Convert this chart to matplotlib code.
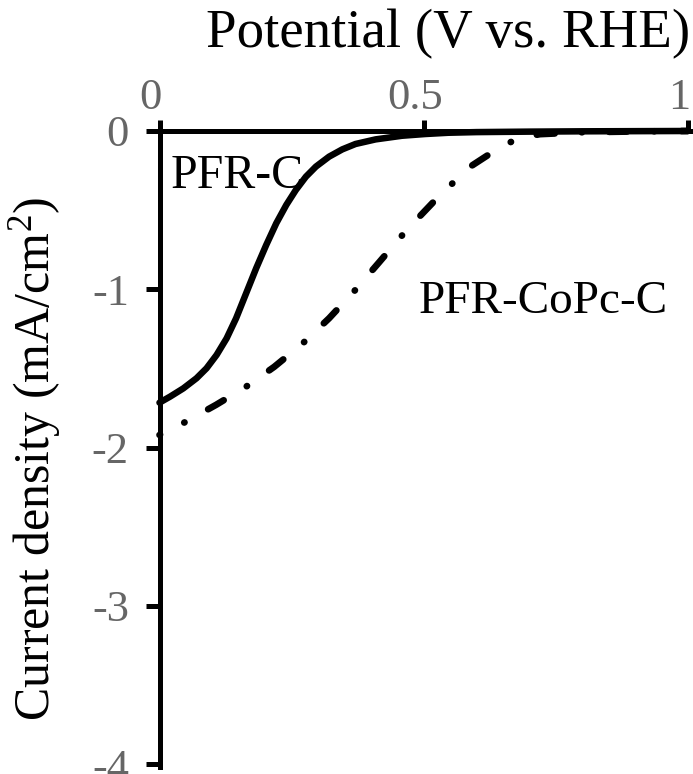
import matplotlib
matplotlib.use("Agg")
import matplotlib.pyplot as plt
import matplotlib.transforms as mtransforms

plt.rcParams["font.family"] = ["Liberation Serif", "DejaVu Serif"]
plt.rcParams["mathtext.fontset"] = "custom"
plt.rcParams["mathtext.rm"] = "Liberation Serif"
plt.rcParams["mathtext.it"] = "Liberation Serif:italic"

# LSV curves (potential in V vs. RHE, current density in mA/cm2)
pfr_c_v = [0.0, 0.020, 0.045, 0.070, 0.089, 0.108, 0.127, 0.145, 0.164, 0.183,
           0.202, 0.221, 0.240, 0.258, 0.277, 0.296, 0.321, 0.346, 0.371, 0.409,
           0.459, 0.503, 0.547, 0.60, 0.70, 0.80, 0.90, 1.0]
pfr_c_j = [-1.716, -1.678, -1.626, -1.562, -1.499, -1.415, -1.310, -1.183, -1.025, -0.867,
           -0.720, -0.583, -0.467, -0.373, -0.289, -0.225, -0.162, -0.116, -0.082, -0.053,
           -0.030, -0.019, -0.011, -0.007, -0.004, -0.002, -0.001, 0.0]

pfr_copc_c_v = [0.0, 0.044, 0.107, 0.164, 0.217, 0.270, 0.321, 0.369, 0.415,
                0.468, 0.522, 0.585, 0.625, 0.654, 0.679, 0.72, 0.80, 0.90, 1.0]
pfr_copc_c_j = [-1.92, -1.847, -1.73, -1.615, -1.49, -1.345, -1.183, -1.01, -0.832,
                -0.625, -0.436, -0.232, -0.145, -0.088, -0.046, -0.02, -0.008, -0.003, 0.0]

x_ticks = [0, 0.5, 1]
x_tick_labels = ["0", "0.5", "1"]
y_ticks = [0, -1, -2, -3, -4]
y_tick_labels = ["0", "-1", "-2", "-3", "-4"]

fig = plt.figure(figsize=(6.93, 7.74), dpi=100)
ax = fig.add_axes([159.5 / 693, 1 - 766.6 / 774, 531 / 693, (766.6 - 131) / 774])

ax.plot(pfr_c_v, pfr_c_j, color="black", lw=4.7, solid_capstyle="round",
        solid_joinstyle="round", clip_on=False)
ax.plot(pfr_copc_c_v, pfr_copc_c_j, color="black", lw=4.8, clip_on=False,
        dash_capstyle="round", linestyle=(2.6, (2.7, 4.05, 0.05, 4.05)))

ax.set_xlim(0, 1.005)
ax.set_ylim(-4.015, 0)

# x axis sits on top, y axis on the left
for side in ("right", "bottom"):
    ax.spines[side].set_visible(False)
for side in ("left", "top"):
    ax.spines[side].set_linewidth(3.6)
ax.xaxis.set_ticks_position("top")
ax.set_xticks(x_ticks)
ax.set_xticklabels(x_tick_labels)
ax.set_yticks(y_ticks)
ax.set_yticklabels(y_tick_labels)
ax.tick_params(direction="out", width=3.6, labelsize=32,
               labelcolor="#666666", color="black")
ax.tick_params(axis="x", length=8, pad=1.5)
ax.tick_params(axis="y", length=10, pad=12)

# nudge the top tick labels slightly to the left
shift = mtransforms.ScaledTranslation(-9 / 100, 0, fig.dpi_scale_trans)
for lbl in ax.get_xticklabels():
    lbl.set_transform(lbl.get_transform() + shift)

ax.set_xlabel("Potential (V vs. RHE)", fontsize=39.5, va="baseline")
ax.xaxis.set_label_coords(0.543, 1.132)
ax.set_ylabel("Current density (mA/cm$^{2}$)", fontsize=36, va="baseline")
ax.yaxis.set_label_coords(-0.207, 0.485)

ax.text(0.021, -0.360, "PFR-C", fontsize=34.5, va="baseline", ha="left")
ax.text(0.4906, -1.150, "PFR-CoPc-C", fontsize=34, va="baseline", ha="left")

fig.savefig("out.png", dpi=100)
